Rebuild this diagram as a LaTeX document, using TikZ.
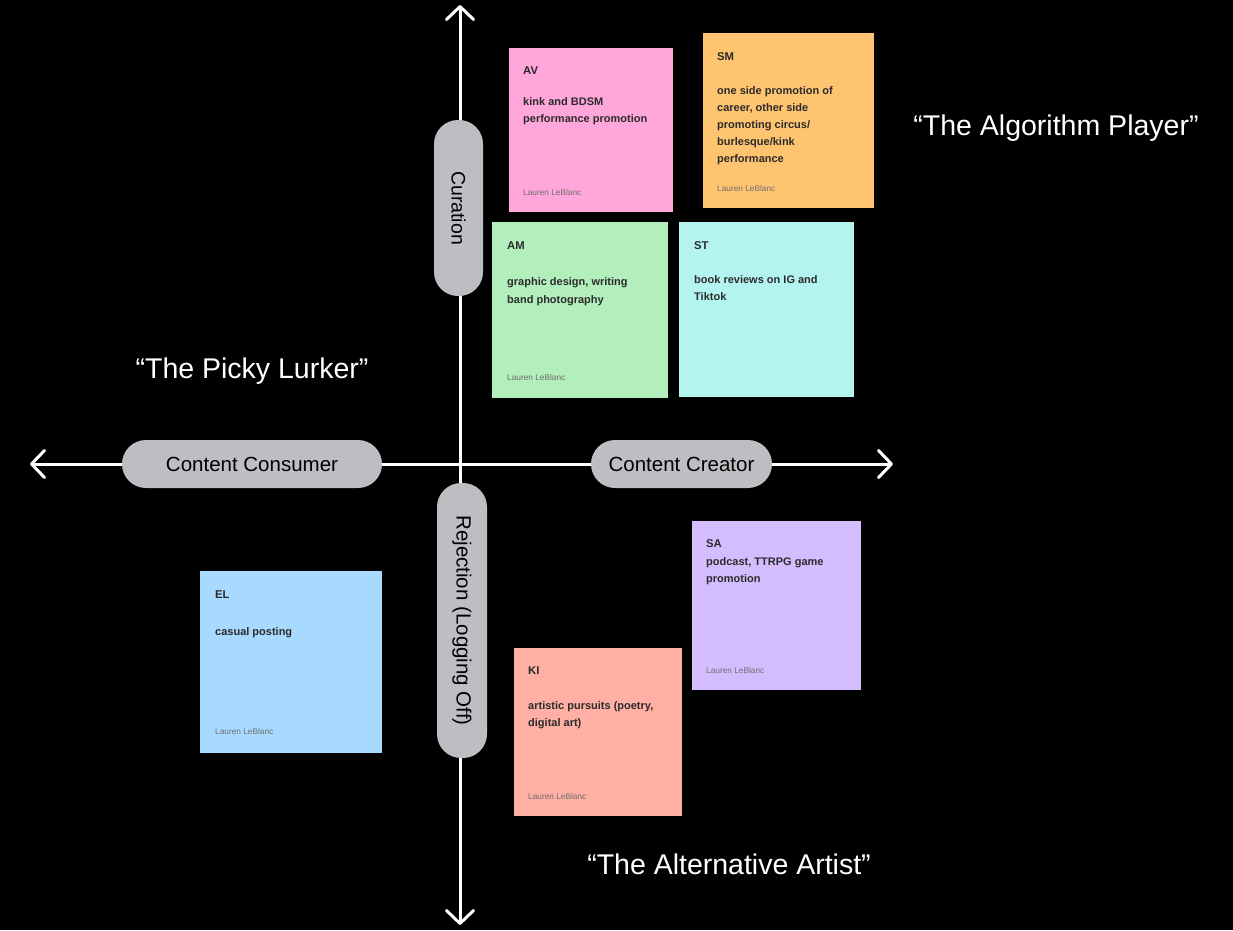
\documentclass[tikz,border=0pt]{standalone}
\usepackage{fontspec}
\setmainfont{Liberation Sans}
\usetikzlibrary{arrows.meta}
\definecolor{pillgray}{HTML}{BDBEC2}
\definecolor{notetext}{HTML}{2B2B2B}
\definecolor{authgray}{HTML}{6E6E6E}
\definecolor{cpink}{HTML}{FFA6DA}
\definecolor{corange}{HTML}{FFC470}
\definecolor{cgreen}{HTML}{B3EFBD}
\definecolor{ccyan}{HTML}{B3F4EF}
\definecolor{cpurple}{HTML}{D3BDFF}
\definecolor{cblue}{HTML}{A8DAFF}
\definecolor{csalmon}{HTML}{FFAFA3}
\tikzset{
  axisline/.style={draw=white, line width=3pt, {Straight Barb[length=13pt,width=27pt,round]}-{Straight Barb[length=13pt,width=27pt,round]}},
  pill/.style={fill=pillgray, rounded corners=24pt, inner sep=0pt, text=black, font=\fontsize{20.5}{24}\selectfont},
  notebox/.style={anchor=north west, inner sep=0pt, outer sep=0pt},
  ntitle/.style={anchor=base west, inner sep=0pt, text=notetext, font=\bfseries\fontsize{11.3}{17}\selectfont},
  nbody/.style={anchor=north west, inner sep=0pt, align=left, text=notetext, font=\bfseries\fontsize{11}{17}\selectfont},
  nauthor/.style={anchor=base west, inner sep=0pt, text=authgray, font=\fontsize{8.3}{10}\selectfont},
  quadlabel/.style={text=white, inner sep=0pt, font=\fontsize{28.5}{32}\selectfont}
}
\begin{document}
\begin{tikzpicture}[x=1pt,y=-1pt]
\fill[black] (0,0) rectangle (1233,930);
\useasboundingbox (0,0) rectangle (1233,930);

% axes
\coordinate (vtop) at (460,5);
\coordinate (vbot) at (460,925);
\coordinate (hleft) at (30,464);
\coordinate (hright) at (893,464);
\draw[axisline] (vtop) -- (vbot);
\draw[axisline] (hleft) -- (hright);

% pills
\node[pill, minimum width=49pt, minimum height=176pt] (curation) at (458.5,208) {};
\node[rotate=-90, text=black, font=\fontsize{19.5}{24}\selectfont] (curtext) at (curation.center) {Curation};
\node[pill, minimum width=50pt, minimum height=275pt] (rejection) at (462,620.5) {};
\node[rotate=-90, text=black, font=\fontsize{20.5}{24}\selectfont] (rejtext) at (rejection.center) {Rejection (Logging Off)};
\node[pill, minimum width=260pt, minimum height=48pt] (consumer) at (252,464) {Content Consumer};
\node[pill, minimum width=181pt, minimum height=48pt] (creator) at (681.5,464) {Content Creator};

% quadrant labels
\node[quadlabel] (lurker) at (252,371) {“The Picky Lurker”};
\node[quadlabel] (algo) at (1056,128) {“The Algorithm Player”};
\node[quadlabel] (alt) at (729,864) {“The Alternative Artist”};

% AV
\node[notebox, fill=cpink, minimum width=164pt, minimum height=164pt] (av) at (509,48) {};
\node[ntitle] (avt) at (523,74) {AV};
\node[nbody] (avb) at (523,97) {kink and BDSM\\performance promotion};
\node[nauthor] (ava) at (523,195) {Lauren LeBlanc};

% SM
\node[notebox, fill=corange, minimum width=171pt, minimum height=175pt] (sm) at (703,33) {};
\node[ntitle] (smt) at (717,60) {SM};
\node[nbody] (smb) at (717,86) {one side promotion of\\career, other side\\promoting circus/\\burlesque/kink\\performance};
\node[nauthor] (sma) at (717,191) {Lauren LeBlanc};

% AM
\node[notebox, fill=cgreen, minimum width=176pt, minimum height=176pt] (am) at (492,222) {};
\node[ntitle] (amt) at (507,249) {AM};
\node[nbody, font=\bfseries\fontsize{11}{18}\selectfont] (amb) at (507,277) {graphic design, writing\\band photography};
\node[nauthor] (ama) at (507,380) {Lauren LeBlanc};

% ST
\node[notebox, fill=ccyan, minimum width=175pt, minimum height=175pt] (st) at (679,222) {};
\node[ntitle] (stt) at (694,249) {ST};
\node[nbody] (stb) at (694,275) {book reviews on IG and\\Tiktok};

% SA
\node[notebox, fill=cpurple, minimum width=169pt, minimum height=169pt] (sa) at (692,521) {};
\node[ntitle] (sat) at (706,547) {SA};
\node[nbody] (sab) at (706,557) {podcast, TTRPG game\\promotion};
\node[nauthor] (saa) at (706,673) {Lauren LeBlanc};

% EL
\node[notebox, fill=cblue, minimum width=182pt, minimum height=182pt] (el) at (200,571) {};
\node[ntitle] (elt) at (215,598) {EL};
\node[nbody] (elb) at (215,627) {casual posting};
\node[nauthor] (ela) at (215,734) {Lauren LeBlanc};

% KI
\node[notebox, fill=csalmon, minimum width=168pt, minimum height=168pt] (ki) at (514,648) {};
\node[ntitle] (kit) at (528,674) {KI};
\node[nbody] (kib) at (528,701) {artistic pursuits (poetry,\\digital art)};
\node[nauthor] (kia) at (528,799) {Lauren LeBlanc};
\end{tikzpicture}
\end{document}
